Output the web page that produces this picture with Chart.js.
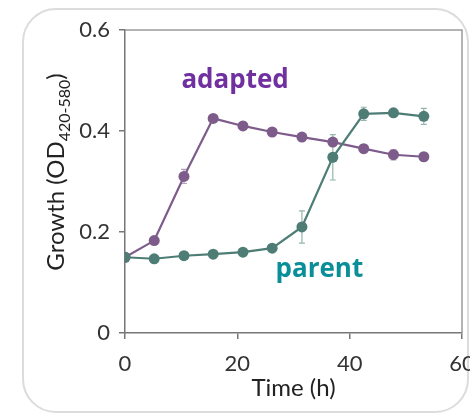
<!DOCTYPE html>
<html>
<head>
<meta charset="utf-8">
<script src="https://cdn.jsdelivr.net/npm/chart.js@4"></script>
<style>
  html, body { margin: 0; padding: 0; background: #fff; overflow: hidden; }
  #wrap { position: relative; width: 470px; height: 417px; }
  #card { position: absolute; left: 22px; top: 8px; width: 447px; height: 405px;
          border: 2px solid #dcdcdc; border-radius: 34px; box-sizing: border-box; }
  #growthChart { position: absolute; left: 0; top: 0; }
</style>
</head>
<body>
<div id="wrap">
  <div id="card"></div>
  <canvas id="growthChart" width="470" height="417"></canvas>
</div>
<script>
// sampling times (h)
const times = [0, 5.2, 10.5, 15.7, 21, 26.2, 31.5, 37, 42.5, 47.8, 53.2];
// OD 420-580 readings
const adapted = [0.15, 0.183, 0.31, 0.425, 0.41, 0.398, 0.388, 0.378, 0.365, 0.353, 0.349];
const adaptedErr = [0, 0.006, 0.014, 0.005, 0.006, 0.005, 0.005, 0.006, 0.008, 0.01, 0.006];
const parent = [0.15, 0.147, 0.153, 0.156, 0.16, 0.168, 0.21, 0.348, 0.434, 0.436, 0.429];
const parentErr = [0, 0, 0, 0, 0.004, 0.005, 0.032, 0.045, 0.013, 0.006, 0.016];
const xTicks = [0, 20, 40, 60];
const yTicks = [0, 0.2, 0.4, 0.6];

const adaptedColor = '#7d5b8a';
const parentColor = '#4e7d76';
const tickFont = { family: 'Lato', size: 22 };

const toPoints = (ys) => ys.map((v, i) => ({ x: times[i], y: v }));

// error bars, series labels, y title and the light top/right frame
const extras = {
  id: 'extras',
  beforeDatasetsDraw(chart) {
    const { ctx, scales: { x, y } } = chart;
    const bars = [[parent, parentErr, '#93b6ae'], [adapted, adaptedErr, '#b59fbe']];
    ctx.save();
    ctx.lineWidth = 1.2;
    bars.forEach(([vals, errs, col]) => {
      ctx.strokeStyle = col;
      vals.forEach((v, i) => {
        if (!errs[i]) return;
        const px = x.getPixelForValue(times[i]);
        const top = y.getPixelForValue(v + errs[i]);
        const bot = y.getPixelForValue(v - errs[i]);
        ctx.beginPath();
        ctx.moveTo(px, top); ctx.lineTo(px, bot);
        ctx.moveTo(px - 3, top); ctx.lineTo(px + 3, top);
        ctx.moveTo(px - 3, bot); ctx.lineTo(px + 3, bot);
        ctx.stroke();
      });
    });
    ctx.restore();
  },
  afterDraw(chart) {
    const { ctx, chartArea: a, scales: { x, y } } = chart;
    ctx.save();
    // frame top and right
    ctx.strokeStyle = '#9a9a9a';
    ctx.lineWidth = 1.5;
    ctx.beginPath();
    ctx.moveTo(a.left, a.top); ctx.lineTo(a.right, a.top); ctx.lineTo(a.right, a.bottom);
    ctx.stroke();

    // series labels
    ctx.font = 'bold 26px "Open Sans"';
    ctx.textAlign = 'center';
    ctx.textBaseline = 'alphabetic';
    ctx.fillStyle = '#7030a0';
    ctx.fillText('adapted', x.getPixelForValue(19.6), y.getPixelForValue(0.485));
    ctx.fillStyle = '#0a8f99';
    ctx.fillText('parent', x.getPixelForValue(34.6), y.getPixelForValue(0.11));

    // y axis title with subscript
    const main = 'Growth (OD', sub = '420-580', close = ')';
    ctx.fillStyle = '#222';
    ctx.textAlign = 'left';
    ctx.font = '24px Lato';
    const w1 = ctx.measureText(main).width, w3 = ctx.measureText(close).width;
    ctx.font = '16px Lato';
    const w2 = ctx.measureText(sub).width;
    const total = w1 + w2 + w3;
    ctx.translate(64, 172);
    ctx.rotate(-Math.PI / 2);
    let u = -total / 2;
    ctx.font = '24px Lato';
    ctx.fillText(main, u, 0); u += w1;
    ctx.font = '16px Lato';
    ctx.fillText(sub, u, 6); u += w2;
    ctx.font = '24px Lato';
    ctx.fillText(close, u, 0);
    ctx.restore();
  }
};

new Chart(document.getElementById('growthChart').getContext('2d'), {
  type: 'line',
  data: {
    datasets: [
      {
        label: 'parent',
        data: toPoints(parent),
        borderColor: parentColor,
        backgroundColor: parentColor,
        pointBackgroundColor: parentColor,
        pointBorderWidth: 0,
        pointRadius: 5.5,
        borderWidth: 2.2,
        tension: 0
      },
      {
        label: 'adapted',
        data: toPoints(adapted),
        borderColor: adaptedColor,
        backgroundColor: adaptedColor,
        pointBackgroundColor: adaptedColor,
        pointBorderWidth: 0,
        pointRadius: 5.5,
        borderWidth: 2.2,
        tension: 0
      }
    ]
  },
  options: {
    responsive: false,
    animation: false,
    layout: { padding: { top: 30, right: 8, bottom: 0, left: 0 } },
    plugins: { legend: { display: false }, tooltip: { enabled: false } },
    scales: {
      x: {
        type: 'linear',
        min: 0,
        max: 60,
        afterBuildTicks: (s) => { s.ticks = xTicks.map(v => ({ value: v })); },
        ticks: { font: tickFont, color: '#333', padding: 12, maxRotation: 0 },
        grid: { drawOnChartArea: false, tickLength: 6, color: '#777', lineWidth: 1.5 },
        border: { color: '#777', width: 1.5 },
        title: { display: true, text: 'Time (h)', font: { family: 'Lato', size: 24 }, color: '#222', padding: { top: 0, bottom: 14 } },
        afterFit: (s) => { s.height = 84; s.paddingLeft = 0; s.paddingRight = 0; }
      },
      y: {
        min: 0,
        max: 0.6,
        afterBuildTicks: (s) => { s.ticks = yTicks.map(v => ({ value: v })); },
        ticks: {
          font: tickFont, color: '#333', padding: 9,
          callback: (v) => (v === 0 ? '0' : v.toFixed(1))
        },
        grid: { drawOnChartArea: false, tickLength: 6, color: '#777', lineWidth: 1.5 },
        border: { color: '#777', width: 1.5 },
        afterFit: (s) => { s.width = 125; s.paddingTop = 0; s.paddingBottom = 0; }
      }
    }
  },
  plugins: [extras]
});
</script>
</body>
</html>
